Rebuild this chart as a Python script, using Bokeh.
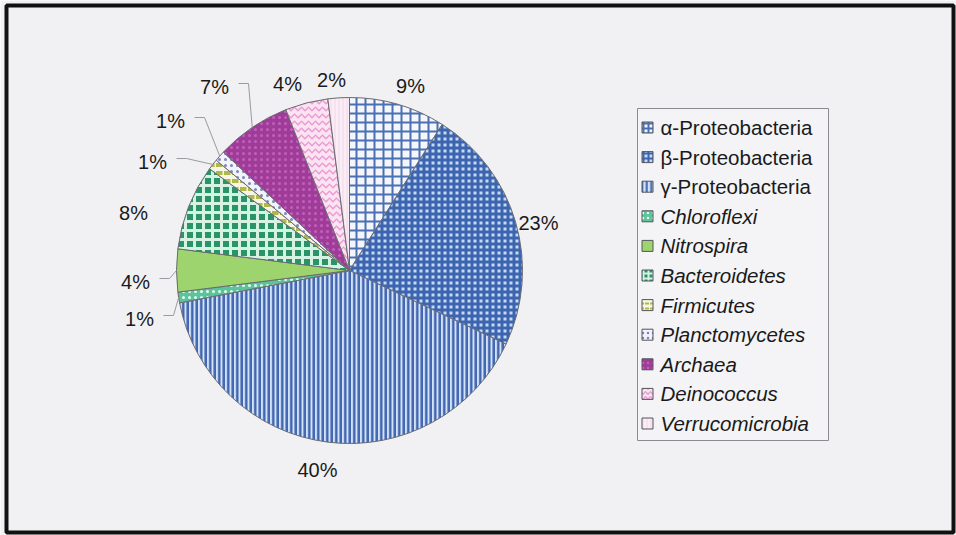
import numpy as np
from bokeh.plotting import figure
from bokeh.models import Range1d, ColumnDataSource, BoxAnnotation
from bokeh.core.properties import value
from bokeh.embed import file_html
from bokeh.resources import INLINE

# ---- data: share of clone library per group (%) ----
groups = ["α-Proteobacteria", "β-Proteobacteria", "γ-Proteobacteria", "Chloroflexi",
          "Nitrospira", "Bacteroidetes", "Firmicutes", "Planctomycetes", "Archaea",
          "Deinococcus", "Verrucomicrobia"]
shares = [9, 23, 40, 1, 4, 8, 1, 1, 7, 4, 2]
label_texts = [f"{s}%" for s in shares]

# ---- styles ----
name_styles = ["normal", "normal", "normal", "italic", "italic", "italic", "italic",
               "italic", "italic", "italic", "italic"]
fills = ["#f4f6fc", "#c4daf6", "#d2e2f8", "#5cc49c", "#9ed46e", "#2a9468",
         "#f6f6e6", "#f3f3f9", "#9e3c98", "#fbe4f2", "#f9eef5"]
hatches = ["cross", "cross", "vertical_line", "dot", "blank", "cross",
           "horizontal_dash", "dot", "dot", "horizontal_wave", "vertical_line"]
hatch_colors = ["#4a6fb5", "#3d64ae", "#4266b0", "#e6fbef", "#b4e08a", "#d6f2e2",
                "#b0b84a", "#7e84c0", "#c45ebc", "#ea9ad2", "#f0d6e6"]
hatch_scales = [9, 6, 4.5, 6, 6, 9, 8, 6, 6, 7, 4]
hatch_weights = [2, 3, 2.5, 2, 1, 3, 4, 1.5, 3, 1.5, 1]

# ---- layout (page pixels, y measured from the top) ----
W, H = 956, 535
CX, CY = 349, 270
R = 173
label_pos = [(410, 85), (538, 222), (317, 469), (139, 318), (135, 281), (133, 212),
             (152, 161), (170, 120), (214, 86), (287, 83), (331, 79)]
leader = [False, False, False, True, True, False, True, True, True, False, False]
FONT = "Liberation Sans"
LABEL_SIZE = "20px"
LEGEND_SIZE = "20.5px"


def fy(y):
    """page y (from top) -> plot y (from bottom)"""
    return H - y


shares_a = np.array(shares, dtype=float)
frac_end = np.cumsum(shares_a) / shares_a.sum()
frac_start = frac_end - shares_a / shares_a.sum()
frac_mid = (frac_start + frac_end) / 2
# clockwise from 12 o'clock
start_angle = np.pi / 2 - 2 * np.pi * frac_end
end_angle = np.pi / 2 - 2 * np.pi * frac_start

p = figure(width=W, height=H, x_range=Range1d(0, W), y_range=Range1d(0, H),
           min_border=0, toolbar_location=None, output_backend="svg")
p.axis.visible = False
p.grid.visible = False
p.outline_line_color = None
p.background_fill_color = "#f1f1f3"
p.border_fill_color = "#f1f1f3"

pie = ColumnDataSource(dict(
    start=start_angle, end=end_angle, fill=fills, hatch=hatches,
    hcolor=hatch_colors, hscale=hatch_scales, hweight=hatch_weights,
))
p.wedge(x=CX, y=fy(CY), radius=R, start_angle="start", end_angle="end",
        direction="anticlock", source=pie, fill_color="fill",
        hatch_pattern="hatch", hatch_color="hcolor", hatch_scale="hscale",
        hatch_weight="hweight", line_color="#6a6a70", line_width=1)

# percentage labels
lx = [q[0] for q in label_pos]
ly = [fy(q[1]) for q in label_pos]
p.text(x=lx, y=ly, text=label_texts, text_align="center", text_baseline="middle",
       text_font=value(FONT), text_font_size=LABEL_SIZE, text_color="#1a1a1a")

# leader lines from the moved labels to their slices
xs, ys = [], []
for i, on in enumerate(leader):
    if not on:
        continue
    x0 = label_pos[i][0] + 16 + 8
    y0 = label_pos[i][1] - 3
    phi = np.pi / 2 - 2 * np.pi * frac_mid[i]
    ex = CX + R * np.cos(phi)
    ey = fy(CY) + R * np.sin(phi)
    xs.append([x0, x0 + 10, ex])
    ys.append([fy(y0), fy(y0), ey])
p.multi_line(xs=xs, ys=ys, line_color="#9a9aa0", line_width=1)

# legend
LEG_L, LEG_R, LEG_T, LEG_B = 637, 828, 108, 440
ROW0, STEP = 127, 29.6
p.add_layout(BoxAnnotation(left=LEG_L, right=LEG_R, top=fy(LEG_T), bottom=fy(LEG_B),
                           fill_color="#f4f4f6", fill_alpha=1, level="underlay",
                           line_color="#8a8a90", line_alpha=1, line_width=1))
rows = [fy(ROW0 + STEP * i) for i in range(len(groups))]
leg = ColumnDataSource(dict(
    y=rows, fill=fills, hatch=hatches, hcolor=hatch_colors,
    hscale=[min(s, 5) for s in hatch_scales], hweight=[min(w, 2) for w in hatch_weights],
    name=groups, style=name_styles,
))
p.rect(x=647, y="y", width=11, height=11, source=leg, fill_color="fill",
       hatch_pattern="hatch", hatch_color="hcolor", hatch_scale="hscale",
       hatch_weight="hweight", line_color="#55555a", line_width=1)
p.text(x=660, y="y", text="name", source=leg, text_align="left",
       text_baseline="middle", text_font=value(FONT), text_font_size=LEGEND_SIZE,
       text_font_style="style", text_color="#1a1a1a")

# outer frame
p.add_layout(BoxAnnotation(left=6, right=953, top=fy(5), bottom=fy(532),
                           fill_alpha=0, line_color="#111111", line_alpha=1,
                           line_width=4))

open("out.html", "w").write(file_html(p, INLINE))
